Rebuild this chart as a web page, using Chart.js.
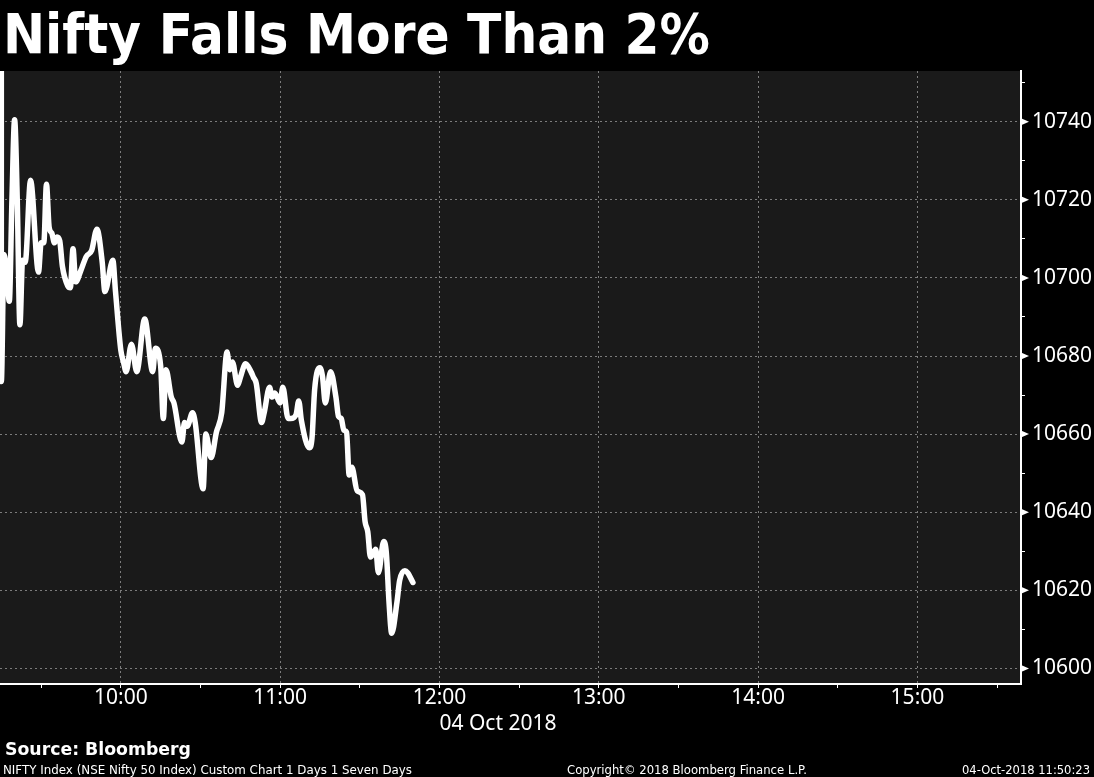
<!DOCTYPE html>
<html>
<head>
<meta charset="utf-8">
<title>Nifty Falls More Than 2%</title>
<script src="https://cdn.jsdelivr.net/npm/chart.js@4.4.1/dist/chart.umd.min.js"></script>
<style>
  html, body { margin: 0; padding: 0; background: #000; width: 1094px; height: 777px; overflow: hidden; }
  #chartCanvas { position: absolute; left: 0; top: 0; }
  .txt { position: absolute; color: #fff; white-space: nowrap; transform-origin: 0 0; line-height: 1; }
  #title { left: 3px; top: 1px; font: bold 56px "DejaVu Sans", sans-serif; }
  #dateLabel { top: 708px; font: 21px "Noto Sans", sans-serif; }
  #source { left: 5px; top: 739px; font: bold 17px "DejaVu Sans", sans-serif; }
  .foot { top: 763px; font: 12px "DejaVu Sans", sans-serif; }
  #footNote { left: 3px; }
  #copyright { left: 567px; }
  #stamp { left: 962px; }
</style>
</head>
<body>
<canvas id="chartCanvas" width="1094" height="777"></canvas>
<div id="title" class="txt">Nifty Falls More Than 2%</div>
<div id="dateLabel" class="txt">04 Oct 2018</div>
<div id="source" class="txt">Source: Bloomberg</div>
<div id="footNote" class="txt foot">NIFTY Index (NSE Nifty 50 Index) Custom Chart 1 Days 1 Seven Days</div>
<div id="copyright" class="txt foot">Copyright© 2018 Bloomberg Finance L.P.</div>
<div id="stamp" class="txt foot">04-Oct-2018 11:50:23</div>
<script>
// NIFTY intraday, 04 Oct 2018
const times = [
  "09:15", "09:15", "09:16", "09:17", "09:18", "09:19", "09:20", "09:21", "09:22", "09:23",
  "09:24", "09:26", "09:29", "09:30", "09:31", "09:32", "09:33", "09:34", "09:35", "09:36",
  "09:37", "09:38", "09:40", "09:41", "09:42", "09:43", "09:45", "09:47", "09:49", "09:51",
  "09:53", "09:54", "09:57", "09:58", "10:00", "10:01", "10:02", "10:04", "10:06", "10:09",
  "10:12", "10:13", "10:15", "10:16", "10:17", "10:19", "10:20", "10:23", "10:24", "10:25",
  "10:27", "10:28", "10:31", "10:32", "10:34", "10:36", "10:38", "10:40", "10:41", "10:42",
  "10:44", "10:45", "10:47", "10:49", "10:50", "10:51", "10:53", "10:54", "10:56", "10:57",
  "10:58", "11:00", "11:01", "11:03", "11:04", "11:06", "11:07", "11:08", "11:11", "11:12",
  "11:13", "11:15", "11:16", "11:17", "11:19", "11:21", "11:22", "11:23", "11:24", "11:25",
  "11:26", "11:27", "11:29", "11:31", "11:32", "11:33", "11:34", "11:36", "11:37", "11:39",
  "11:40", "11:41", "11:42", "11:44", "11:45", "11:47", "11:48", "11:50",
];
const niftyValues = [
  10754, 10673.5, 10706, 10702, 10694, 10720, 10740.5, 10720, 10688, 10704.5,
  10704, 10725, 10701.5, 10709, 10709, 10724, 10713, 10711.5, 10709, 10710.5,
  10709.5, 10703, 10698, 10697.5, 10707.5, 10699, 10702, 10705.5, 10707, 10712.5,
  10704, 10696.5, 10704.5, 10696.5, 10681.5, 10678.5, 10676, 10683, 10676, 10689.5,
  10676, 10682, 10677.5, 10664, 10676.5, 10669.5, 10668, 10658, 10663, 10662,
  10665.5, 10663, 10646, 10660, 10654, 10660.5, 10665.5, 10681, 10676.5, 10678.5,
  10672.5, 10674.5, 10678, 10676, 10674.5, 10673, 10663, 10665.5, 10672, 10669.5,
  10670.5, 10668, 10672, 10664, 10664, 10665, 10668.5, 10663.5, 10656.5, 10659,
  10671.5, 10677, 10674.5, 10668, 10676, 10669.5, 10664.5, 10664, 10661, 10660.5,
  10649.5, 10651.5, 10645.5, 10644.5, 10637.5, 10635, 10628.5, 10630.5, 10624.5, 10632.5,
  10629.5, 10617, 10609, 10617, 10622.5, 10625, 10624.5, 10622,
];
const xTicks = ["09:30", "10:00", "10:30", "11:00", "11:30", "12:00", "12:30", "13:00", "13:30", "14:00", "14:30", "15:00", "15:30"];
const yTicks = [10600, 10610, 10620, 10630, 10640, 10650, 10660, 10670, 10680, 10690, 10700, 10710, 10720, 10730, 10740, 10750];

const X_MIN = 554.5;   // 09:14:30
const X_MAX = 939;     // 15:39
const Y_MIN = 10596;
const Y_MAX = 10753;

const colors = {
  page: "#000000",
  plot: "#1a1a1a",
  line: "#ffffff",
  grid: "#7c7c7c",
  text: "#ffffff",
};
const axisFont = { family: "'Noto Sans', sans-serif", size: 21, lineHeight: 1 };

function toMinutes(hhmm) {
  const [h, m] = hhmm.split(":").map(Number);
  return h * 60 + m;
}

function formatMinutes(value) {
  const h = Math.floor(value / 60);
  const m = value % 60;
  return String(h).padStart(2, "0") + ":" + String(m).padStart(2, "0");
}

const plotBackground = {
  id: "plotBackground",
  beforeDraw(chart) {
    const { ctx, chartArea } = chart;
    ctx.save();
    ctx.fillStyle = colors.plot;
    ctx.fillRect(chartArea.left, chartArea.top, chartArea.right - chartArea.left, chartArea.bottom - chartArea.top);
    ctx.restore();
  },
};

// little arrow heads on the major price ticks
const tickArrows = {
  id: "tickArrows",
  afterDraw(chart) {
    const { ctx, chartArea } = chart;
    const y = chart.scales.y;
    ctx.save();
    ctx.fillStyle = colors.text;
    yTicks.filter((v) => v % 20 === 0).forEach((v) => {
      const py = y.getPixelForValue(v);
      ctx.beginPath();
      ctx.moveTo(chartArea.right, py - 3.5);
      ctx.lineTo(chartArea.right + 8, py);
      ctx.lineTo(chartArea.right, py + 3.5);
      ctx.closePath();
      ctx.fill();
    });
    ctx.restore();
  },
};

function fitWidth(id, target) {
  const el = document.getElementById(id);
  const w = el.getBoundingClientRect().width;
  if (w > 0) el.style.transform = `scaleX(${target / w})`;
}

function createChart() {
  const ctx = document.getElementById("chartCanvas");
  return new Chart(ctx, {
    type: "line",
    data: {
      datasets: [{
        label: "NIFTY Index",
        data: times.map((t, i) => ({ x: toMinutes(t), y: niftyValues[i] })),
        borderColor: colors.line,
        borderWidth: 5.5,
        borderJoinStyle: "round",
        borderCapStyle: "round",
        pointRadius: 0,
        cubicInterpolationMode: "monotone",
      }],
    },
    options: {
      responsive: false,
      animation: false,
      devicePixelRatio: 1,
      layout: { padding: { top: 71, left: 0, right: 0, bottom: 0 } },
      plugins: {
        legend: { display: false },
        tooltip: { enabled: false },
      },
      scales: {
        x: {
          type: "linear",
          min: X_MIN,
          max: X_MAX,
          afterBuildTicks: (axis) => { axis.ticks = xTicks.map((t) => ({ value: toMinutes(t) })); },
          afterFit: (axis) => { axis.height = 93; },
          ticks: {
            autoSkip: false,
            maxRotation: 0,
            color: colors.text,
            font: axisFont,
            padding: 0,
            callback: (v) => (v % 60 === 0 ? formatMinutes(v) : ""),
          },
          grid: {
            color: (c) => (c.tick && c.tick.value % 60 === 0 ? colors.grid : "transparent"),
            tickColor: colors.text,
            tickLength: 4,
            lineWidth: 1,
          },
          border: { display: true, color: colors.text, width: 2, dash: [2, 3] },
        },
        y: {
          position: "right",
          min: Y_MIN,
          max: Y_MAX,
          afterBuildTicks: (axis) => { axis.ticks = yTicks.map((v) => ({ value: v })); },
          afterFit: (axis) => { axis.width = 73; },
          ticks: {
            autoSkip: false,
            color: colors.text,
            font: axisFont,
            padding: 7,
            callback: (v) => (v % 20 === 0 ? String(v) : ""),
          },
          grid: {
            color: (c) => (c.tick && c.tick.value % 20 === 0 ? colors.grid : "transparent"),
            tickColor: colors.text,
            tickLength: 4,
            lineWidth: 1,
          },
          border: { display: true, color: colors.text, width: 2, dash: [2, 3] },
        },
      },
    },
    plugins: [plotBackground, tickArrows],
  });
}

function init() {
  const chart = createChart();
  const dateLabel = document.getElementById("dateLabel");
  dateLabel.style.left = chart.scales.x.getPixelForValue(toMinutes("12:00")) + "px";
  fitWidth("title", 707);
  fitWidth("source", 186);
  fitWidth("footNote", 409);
  fitWidth("copyright", 240);
  fitWidth("stamp", 128);
}

init();
</script>
</body>
</html>
